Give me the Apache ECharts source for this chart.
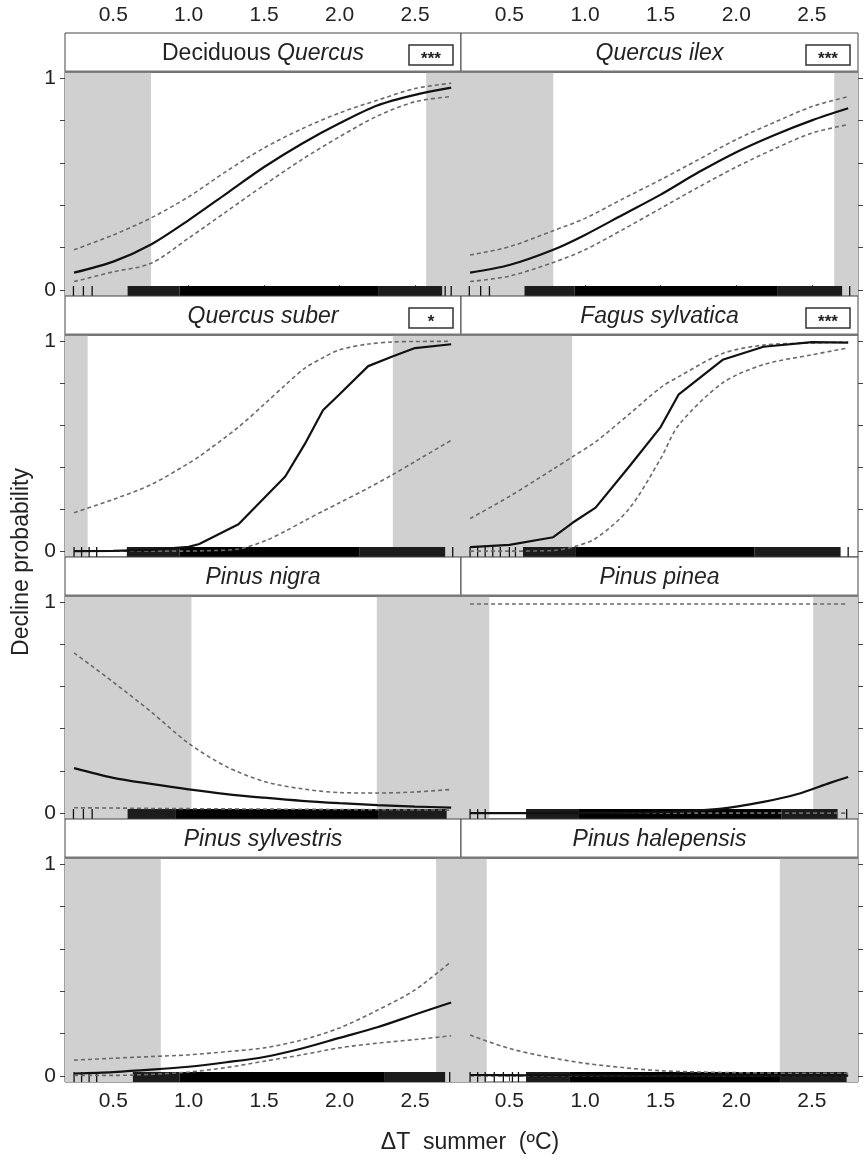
<!DOCTYPE html>
<html><head><meta charset="utf-8">
<script src="https://cdn.jsdelivr.net/npm/echarts@6/dist/echarts.min.js"></script>
<style>html,body{margin:0;padding:0;background:#fff}#c{width:866px;height:1160px}</style>
</head><body><div id="c"></div>
<script>
// ---- axes ----
const xTicks = [0.5, 1.0, 1.5, 2.0, 2.5];
const yTicks = [0, 0.2, 0.4, 0.6, 0.8, 1];
const yLabels = [0, 1];
const X_MIN = 0.18, X_MAX = 2.805, Y_MIN = -0.028, Y_MAX = 1.028;
const xTitle = 'ΔT  summer  (ºC)';
const yTitle = 'Decline probability';

// ---- panel titles / significance ----
const titleNormal = ['Deciduous ', '', '', '', '', '', '', ''];
const titleItalic = ['Quercus', 'Quercus ilex', 'Quercus suber', 'Fagus sylvatica', 'Pinus nigra', 'Pinus pinea', 'Pinus sylvestris', 'Pinus halepensis'];
const signif = ['***', '***', '*', '***', '', '', '', ''];

// ---- Deciduous Quercus ----
const decQ_x   = [0.24, 0.5, 0.75, 1.0, 1.25, 1.5, 1.75, 2.0, 2.25, 2.5, 2.74];
const decQ_fit = [0.082, 0.134, 0.215, 0.33, 0.455, 0.58, 0.69, 0.786, 0.87, 0.92, 0.954];
const decQ_up  = [0.19, 0.26, 0.34, 0.44, 0.56, 0.67, 0.76, 0.835, 0.895, 0.95, 0.975];
const decQ_lo  = [0.04, 0.086, 0.126, 0.245, 0.37, 0.495, 0.615, 0.723, 0.82, 0.888, 0.912];
const decQ_shade = [[0.18, 0.75], [2.574, 2.805]];
const decQ_rugTicks = [0.236, 0.302, 0.36, 2.70, 2.74];
const decQ_rugDense = [[0.94, 2.26]];
const decQ_rugMixed = [[0.595, 0.94], [2.26, 2.68]];

// ---- Quercus ilex ----
const qIlex_x   = [0.24, 0.5, 0.79, 1.0, 1.25, 1.5, 1.75, 2.0, 2.25, 2.5, 2.74];
const qIlex_fit = [0.082, 0.118, 0.19, 0.26, 0.355, 0.45, 0.555, 0.65, 0.73, 0.80, 0.857];
const qIlex_up  = [0.165, 0.204, 0.28, 0.338, 0.43, 0.52, 0.615, 0.71, 0.79, 0.865, 0.912];
const qIlex_lo  = [0.04, 0.066, 0.13, 0.19, 0.285, 0.385, 0.485, 0.58, 0.665, 0.74, 0.78];
const qIlex_shade = [[0.18, 0.79], [2.648, 2.805]];
const qIlex_rugTicks = [0.235, 0.31, 0.368, 2.75];
const qIlex_rugDense = [[0.93, 2.27]];
const qIlex_rugMixed = [[0.6, 0.93], [2.27, 2.70]];

// ---- Quercus suber ----
const qSub_x   = [0.24, 0.5, 0.75, 1.0, 1.07, 1.33, 1.51, 1.64, 1.77, 1.89, 2.0, 2.19, 2.35, 2.5, 2.74];
const qSub_fit = [0.0, 0.001, 0.006, 0.02, 0.034, 0.128, 0.26, 0.355, 0.51, 0.67, 0.746, 0.88, 0.926, 0.966, 0.984];
const qSub_up  = [0.183, 0.246, 0.316, 0.418, 0.45, 0.59, 0.705, 0.79, 0.87, 0.92, 0.958, 0.985, 0.995, 0.997, 0.998];
const qSub_lo  = [0.0, 0.0, 0.0, 0.0, 0.001, 0.01, 0.05, 0.095, 0.145, 0.19, 0.23, 0.30, 0.363, 0.426, 0.527];
const qSub_shade = [[0.18, 0.33], [2.353, 2.805]];
const qSub_rugTicks = [0.24, 0.29, 0.34, 0.39, 2.75];
const qSub_rugDense = [[0.94, 2.13]];
const qSub_rugMixed = [[0.59, 0.94], [2.13, 2.70]];

// ---- Fagus sylvatica ----
const fag_x   = [0.24, 0.5, 0.79, 0.92, 1.07, 1.29, 1.5, 1.62, 1.91, 2.18, 2.5, 2.74];
const fag_fit = [0.019, 0.03, 0.066, 0.136, 0.207, 0.40, 0.59, 0.746, 0.91, 0.972, 0.994, 0.992];
const fag_up  = [0.155, 0.26, 0.39, 0.45, 0.52, 0.65, 0.778, 0.83, 0.94, 0.98, 0.99, 0.994];
const fag_lo  = [0.0, 0.0, 0.003, 0.02, 0.06, 0.20, 0.44, 0.60, 0.80, 0.887, 0.934, 0.966];
const fag_shade = [[0.18, 0.915]];
const fag_rugTicks = [0.24, 0.29, 0.34, 0.39, 0.44, 0.50, 0.54, 2.74];
const fag_rugDense = [[0.94, 2.12]];
const fag_rugMixed = [[0.59, 0.94], [2.12, 2.69]];

// ---- Pinus nigra ----
const pNig_x   = [0.24, 0.5, 0.75, 1.0, 1.25, 1.5, 1.75, 2.0, 2.25, 2.5, 2.74];
const pNig_fit = [0.213, 0.167, 0.138, 0.112, 0.09, 0.073, 0.058, 0.047, 0.038, 0.031, 0.026];
const pNig_up  = [0.759, 0.62, 0.48, 0.33, 0.22, 0.15, 0.115, 0.097, 0.095, 0.10, 0.112];
const pNig_lo  = [0.025, 0.024, 0.022, 0.021, 0.02, 0.019, 0.018, 0.017, 0.016, 0.015, 0.014];
const pNig_shade = [[0.18, 1.018], [2.247, 2.805]];
const pNig_rugTicks = [0.236, 0.302, 0.36];
const pNig_rugDense = [[0.915, 2.26]];
const pNig_rugMixed = [[0.595, 0.915], [2.26, 2.71]];

// ---- Pinus pinea ----
const pPin_x   = [0.24, 0.5, 1.0, 1.5, 1.89, 2.18, 2.4, 2.62, 2.74];
const pPin_fit = [0.0, 0.0, 0.001, 0.004, 0.02, 0.053, 0.089, 0.143, 0.171];
const pPin_up  = [0.99, 0.99, 0.99, 0.99, 0.99, 0.99, 0.99, 0.99, 0.99];
const pPin_lo  = [0.0, 0.0, 0.0, 0.0, 0.0, 0.0, 0.0, 0.0, 0.0];
const pPin_shade = [[0.18, 0.367], [2.509, 2.805]];
const pPin_rugTicks = [0.24, 0.29, 0.34, 2.73];
const pPin_rugDense = [[0.96, 2.30]];
const pPin_rugMixed = [[0.61, 0.96], [2.30, 2.67]];

// ---- Pinus sylvestris ----
const pSyl_x   = [0.24, 0.5, 0.75, 1.0, 1.25, 1.5, 1.75, 2.0, 2.25, 2.5, 2.74];
const pSyl_fit = [0.012, 0.019, 0.03, 0.044, 0.065, 0.09, 0.13, 0.18, 0.23, 0.29, 0.347];
const pSyl_up  = [0.075, 0.084, 0.092, 0.10, 0.115, 0.133, 0.17, 0.227, 0.31, 0.406, 0.54];
const pSyl_lo  = [0.003, 0.003, 0.008, 0.019, 0.04, 0.07, 0.10, 0.133, 0.155, 0.172, 0.19];
const pSyl_shade = [[0.18, 0.815], [2.64, 2.805]];
const pSyl_rugTicks = [0.24, 0.29, 0.34, 0.39, 2.73];
const pSyl_rugDense = [[0.94, 2.30]];
const pSyl_rugMixed = [[0.63, 0.94], [2.30, 2.70]];

// ---- Pinus halepensis ----
const pHal_x   = [0.24, 0.5, 0.75, 1.0, 1.25, 1.5, 1.75, 2.0, 2.25, 2.5, 2.74];
const pHal_fit = [0.005, 0.004, 0.003, 0.003, 0.002, 0.002, 0.002, 0.002, 0.002, 0.002, 0.002];
const pHal_up  = [0.193, 0.13, 0.09, 0.06, 0.04, 0.025, 0.019, 0.016, 0.014, 0.013, 0.013];
const pHal_lo  = [0.0, 0.0, 0.0, 0.0, 0.0, 0.0, 0.0, 0.0, 0.0, 0.0, 0.0];
const pHal_shade = [[0.18, 0.35], [2.288, 2.805]];
const pHal_rugTicks = [0.24, 0.29, 0.34, 0.40, 0.46, 0.52, 0.56];
const pHal_rugDense = [[0.90, 2.29]];
const pHal_rugMixed = [[0.61, 0.90], [2.29, 2.73]];

// fitted line drawn as smooth curve (false = polyline as in the original)
const fitSmooth = [true, true, false, false, true, true, true, true];

const panels = [
  {x: decQ_x, fit: decQ_fit, up: decQ_up, lo: decQ_lo, shade: decQ_shade, ticks: decQ_rugTicks, dense: decQ_rugDense, mixed: decQ_rugMixed},
  {x: qIlex_x, fit: qIlex_fit, up: qIlex_up, lo: qIlex_lo, shade: qIlex_shade, ticks: qIlex_rugTicks, dense: qIlex_rugDense, mixed: qIlex_rugMixed},
  {x: qSub_x, fit: qSub_fit, up: qSub_up, lo: qSub_lo, shade: qSub_shade, ticks: qSub_rugTicks, dense: qSub_rugDense, mixed: qSub_rugMixed},
  {x: fag_x, fit: fag_fit, up: fag_up, lo: fag_lo, shade: fag_shade, ticks: fag_rugTicks, dense: fag_rugDense, mixed: fag_rugMixed},
  {x: pNig_x, fit: pNig_fit, up: pNig_up, lo: pNig_lo, shade: pNig_shade, ticks: pNig_rugTicks, dense: pNig_rugDense, mixed: pNig_rugMixed},
  {x: pPin_x, fit: pPin_fit, up: pPin_up, lo: pPin_lo, shade: pPin_shade, ticks: pPin_rugTicks, dense: pPin_rugDense, mixed: pPin_rugMixed},
  {x: pSyl_x, fit: pSyl_fit, up: pSyl_up, lo: pSyl_lo, shade: pSyl_shade, ticks: pSyl_rugTicks, dense: pSyl_rugDense, mixed: pSyl_rugMixed},
  {x: pHal_x, fit: pHal_fit, up: pHal_up, lo: pHal_lo, shade: pHal_shade, ticks: pHal_rugTicks, dense: pHal_rugDense, mixed: pHal_rugMixed}
];

// ---- layout ----
const FONT = '"Liberation Sans", Arial, Helvetica, sans-serif';
const colLeft = [65, 461], colRight = [461, 858];
const rowTop = [33, 296, 557, 819], figBottom = 1082, stripH = 39;
const RUG_H = 10;
const SMOOTH = 0.3;

const grids = [], xAxes = [], yAxes = [], series = [], graphics = [];

function rugItem(params, api) {
  const cs = params.coordSys;
  const a = api.coord([api.value(0), 0])[0];
  const b = api.coord([api.value(1), 0])[0];
  const kind = api.value(2);
  const bottom = cs.y + cs.height;
  const w = kind === 0 ? 1.3 : Math.max(b - a, 1);
  return {
    type: 'rect',
    shape: {x: kind === 0 ? a - 0.65 : a, y: bottom - RUG_H, width: w, height: RUG_H},
    style: {fill: kind === 2 ? '#000' : (kind === 1 ? '#1c1c1c' : '#111')}
  };
}

panels.forEach((p, i) => {
  const col = i % 2, row = Math.floor(i / 2);
  const L = colLeft[col], R = colRight[col];
  const top = rowTop[row] + stripH;
  const bottom = row < 3 ? rowTop[row + 1] : figBottom;
  grids.push({left: L, top: top, width: R - L, height: bottom - top, show: true,
    backgroundColor: '#fff', borderColor: '#444', borderWidth: 1, containLabel: false});

  const isTop = row === 0, isBottom = row === 3;
  xAxes.push({
    gridIndex: i, type: 'value', min: X_MIN, max: X_MAX,
    position: isTop ? 'top' : 'bottom', offset: isTop ? stripH : 0,
    axisLine: {show: false},
    splitLine: {show: false},
    axisTick: {show: isTop || isBottom, inside: false, length: 5, customValues: xTicks, lineStyle: {color: '#444'}},
    axisLabel: {show: isTop || isBottom, customValues: xTicks, margin: isTop ? 7 : 9,
      formatter: v => v.toFixed(1), fontSize: 21, color: '#222', fontFamily: FONT}
  });
  yAxes.push({
    gridIndex: i, type: 'value', min: Y_MIN, max: Y_MAX,
    position: col === 0 ? 'left' : 'right',
    axisLine: {show: false}, splitLine: {show: false},
    axisTick: {show: true, length: 5, customValues: yTicks, lineStyle: {color: '#444'}},
    axisLabel: {show: col === 0, customValues: yLabels, margin: 9, fontSize: 21, color: '#222', fontFamily: FONT,
      formatter: v => String(Math.round(v))}
  });

  // fit line with grey shading
  series.push({
    type: 'line', xAxisIndex: i, yAxisIndex: i, data: p.x.map((v, k) => [v, p.fit[k]]),
    showSymbol: false, symbol: 'none', smooth: fitSmooth[i] ? SMOOTH : false,
    lineStyle: {color: '#111', width: 2.2}, z: 5, silent: true,
    markArea: {silent: true, itemStyle: {color: '#d0d0d0'}, z: 1,
      data: p.shade.map(s => [{xAxis: s[0]}, {xAxis: s[1]}])}
  });
  series.push({
    type: 'line', xAxisIndex: i, yAxisIndex: i, data: p.x.map((v, k) => [v, p.up[k]]),
    showSymbol: false, symbol: 'none', smooth: SMOOTH,
    lineStyle: {color: '#6a6a6a', width: 1.6, type: [4, 3]}, z: 4, silent: true
  });
  series.push({
    type: 'line', xAxisIndex: i, yAxisIndex: i, data: p.x.map((v, k) => [v, p.lo[k]]),
    showSymbol: false, symbol: 'none', smooth: SMOOTH,
    lineStyle: {color: '#6a6a6a', width: 1.6, type: [4, 3]}, z: 4, silent: true
  });
  // rug
  const rugData = [];
  p.mixed.forEach(b => rugData.push([b[0], b[1], 1]));
  p.dense.forEach(b => rugData.push([b[0], b[1], 2]));
  p.ticks.forEach(t => rugData.push([t, t, 0]));
  series.push({
    type: 'custom', xAxisIndex: i, yAxisIndex: i, renderItem: rugItem, data: rugData,
    encode: {x: [0, 1]}, z: 3, silent: true, clip: true
  });

  // strip
  graphics.push({type: 'rect', shape: {x: L, y: rowTop[row], width: R - L, height: stripH},
    style: {fill: '#fff', stroke: '#444', lineWidth: 1}, z: 10});
  graphics.push({type: 'line', shape: {x1: L, y1: rowTop[row] + stripH - 0.5, x2: R, y2: rowTop[row] + stripH - 0.5},
    style: {stroke: '#777', lineWidth: 2}, z: 11});
  const txt = (titleNormal[i] ? '{n|' + titleNormal[i] + '}' : '') + '{i|' + titleItalic[i] + '}';
  graphics.push({type: 'text', x: (L + R) / 2, y: rowTop[row] + stripH / 2 + 1, z: 12,
    style: {text: txt, align: 'center', verticalAlign: 'middle', textAlign: 'center', textVerticalAlign: 'middle',
      fill: '#222', fontSize: 23, fontFamily: FONT,
      rich: {n: {fontSize: 23, fontFamily: FONT, fill: '#222', fontStyle: 'normal'},
             i: {fontSize: 23, fontFamily: FONT, fill: '#222', fontStyle: 'italic'}}}});
  if (signif[i]) {
    const bx = R - 52, by = rowTop[row] + 12;
    graphics.push({type: 'rect', shape: {x: bx, y: by, width: 44, height: 20},
      style: {fill: '#fff', stroke: '#333', lineWidth: 1.5}, z: 12});
    graphics.push({type: 'text', x: bx + 22, y: by + 14, z: 13,
      style: {text: signif[i], align: 'center', verticalAlign: 'middle', textAlign: 'center', textVerticalAlign: 'middle',
        fill: '#222', fontSize: 17, fontWeight: 'bold', fontFamily: FONT}});
  }
});

// axis titles
graphics.push({type: 'text', x: 470, y: 1143, z: 12,
  style: {text: xTitle, align: 'center', verticalAlign: 'middle', textAlign: 'center', textVerticalAlign: 'middle',
    fill: '#222', fontSize: 23, fontFamily: FONT}});
graphics.push({type: 'text', x: 22, y: 562, rotation: Math.PI / 2, z: 12,
  style: {text: yTitle, align: 'center', verticalAlign: 'middle', textAlign: 'center', textVerticalAlign: 'middle',
    fill: '#222', fontSize: 23, fontFamily: FONT}});

const chart = echarts.init(document.getElementById('c'), null, {renderer: 'canvas'});
chart.setOption({
  backgroundColor: '#fff',
  animation: false,
  grid: grids, xAxis: xAxes, yAxis: yAxes, series: series,
  graphic: {elements: graphics}
});
</script></body></html>
